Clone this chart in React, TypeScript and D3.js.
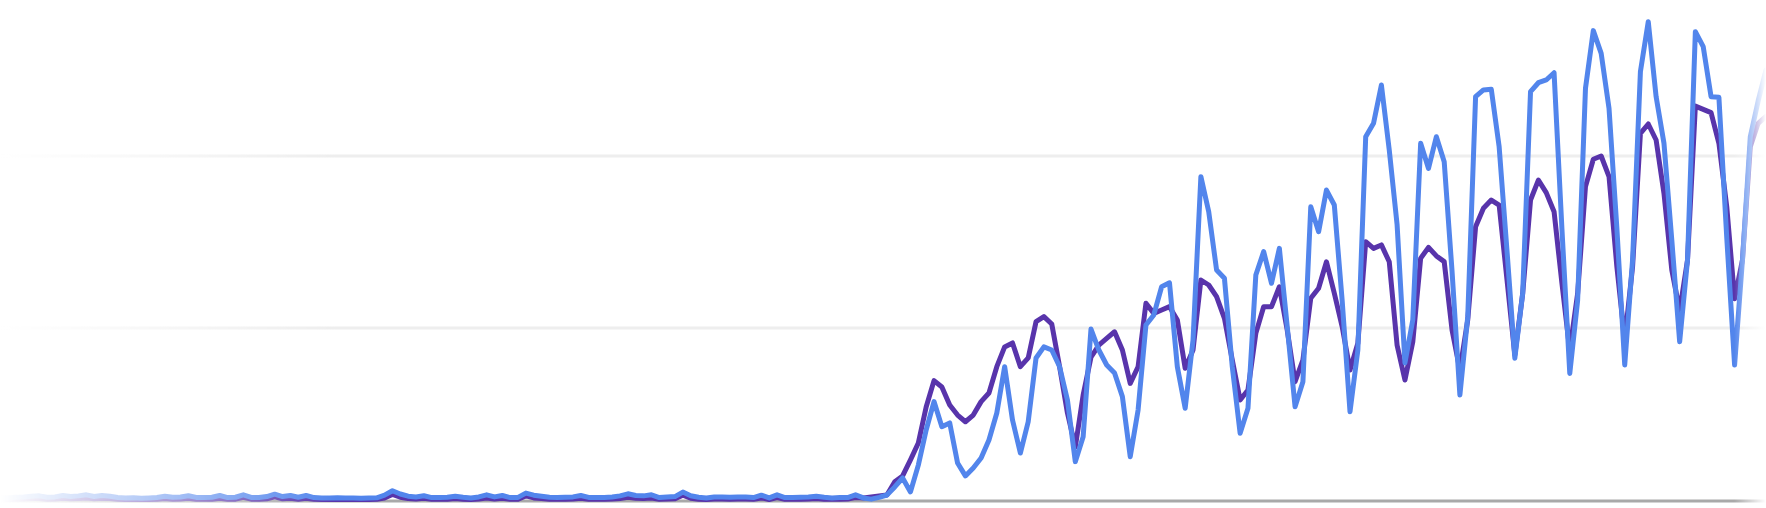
import React from "react";
import * as d3 from "d3";

const blueSeries: number[] = [
  1.5, 1.2, 1.6, 1.8, 2.2, 2.4, 1.6, 1.8, 2.6, 2.0,
  2.4, 3.0, 2.0, 2.6, 2.2, 1.5, 1.2, 1.3, 1.0, 1.2,
  1.5, 2.2, 1.6, 1.8, 2.5, 1.5, 1.4, 1.6, 2.6, 1.4,
  1.6, 3.0, 1.5, 1.4, 2.0, 3.4, 2.0, 2.6, 1.6, 2.6,
  1.4, 1.2, 1.2, 1.3, 1.2, 1.2, 1.0, 1.2, 1.3, 2.8,
  5.4, 3.5, 2.2, 1.8, 2.5, 1.4, 1.4, 1.6, 2.2, 1.6,
  1.2, 1.8, 3.0, 1.8, 2.6, 1.4, 1.5, 4.0, 2.8, 2.2,
  1.6, 1.4, 1.6, 1.8, 2.6, 1.5, 1.4, 1.5, 1.8, 2.4,
  3.6, 2.6, 2.4, 3.0, 1.4, 1.8, 2.0, 4.6, 2.5, 1.6,
  1.2, 1.8, 1.8, 1.6, 1.8, 1.8, 1.4, 2.8, 1.2, 3.0,
  1.4, 1.4, 1.6, 1.8, 2.2, 1.6, 1.2, 1.4, 1.4, 3.0,
  1.2, 0.5, 1.5, 2.9, 7.6, 12.8, 4.7, 20.3, 40.7, 57.2,
  42.6, 44.8, 21.5, 14.0, 18.6, 24.4, 34.9, 50.6, 77.5, 46.5,
  27.3, 45.5, 82.6, 89.0, 87.2, 77.5, 58.1, 22.3, 36.8, 99.4,
  87.2, 78.5, 73.8, 60.1, 25.2, 52.3, 101.7, 107.6, 124.0, 126.3,
  77.5, 53.3, 93.0, 188.0, 167.6, 133.7, 128.9, 77.5, 38.8, 53.3,
  130.8, 144.4, 126.0, 146.3, 100.8, 54.2, 68.8, 170.5, 156.0, 180.2,
  171.5, 116, 51.3, 87.2, 211.2, 219.0, 241.3, 203.5, 160, 79.7,
  104.7, 207.4, 192.8, 211.2, 196.7, 133, 61.0, 106.6, 234.5, 238.4,
  238.8, 205.4, 145, 82.4, 120.2, 237.4, 242.6, 244.2, 248.4, 157.6,
  73.6, 116, 239.3, 272.9, 259.7, 227.7, 158, 78.5, 139.5, 249.0,
  278.1, 234.5, 207.4, 151, 92.0, 139.5, 272.3, 263.6, 234.5, 234.1,
  152.5, 78.5, 139.5, 211.2, 232, 250,
];

const purpleSeries: number[] = [
  0.4, 0.3, 0.5, 0.6, 0.8, 0.9, 0.5, 0.6, 1.0, 0.7,
  0.8, 1.2, 0.7, 1.0, 0.8, 0.4, 0.3, 0.4, 0.3, 0.3,
  0.4, 0.8, 0.5, 0.6, 1.0, 0.4, 0.4, 0.5, 1.0, 0.4,
  0.5, 1.6, 0.5, 0.4, 0.7, 1.8, 0.7, 1.0, 0.5, 1.0,
  0.4, 0.3, 0.3, 0.4, 0.3, 0.3, 0.3, 0.3, 0.4, 1.2,
  3.2, 1.6, 0.8, 0.6, 1.0, 0.4, 0.4, 0.5, 0.8, 0.5,
  0.3, 0.6, 1.2, 0.6, 1.0, 0.4, 0.4, 2.4, 1.2, 0.8,
  0.5, 0.4, 0.5, 0.6, 1.0, 0.4, 0.4, 0.4, 0.6, 0.9,
  1.6, 1.0, 0.9, 1.2, 0.4, 0.6, 0.7, 2.8, 1.0, 0.5,
  0.3, 0.6, 0.6, 0.5, 0.6, 0.6, 0.4, 1.2, 0.3, 1.4,
  0.4, 0.4, 0.5, 0.6, 0.9, 0.5, 0.4, 0.5, 0.6, 1.4,
  1.2, 1.7, 2.3, 2.9, 10.6, 14.0, 23.3, 33.1, 54.1, 69.4,
  65.7, 55.2, 49.4, 45.5, 49.4, 57.2, 62.2, 77.5, 89.0, 91.3,
  77.5, 82.6, 103.7, 106.6, 102.3, 77.5, 50.6, 30.8, 61, 83,
  90.1, 94.0, 97.8, 87.2, 67.8, 77.5, 114.4, 108.5, 110.5, 112.4,
  104.7, 76.6, 87.2, 127.9, 125.0, 118.2, 105.6, 81.4, 58.1, 64.0,
  96.9, 112.4, 112.4, 124.0, 98.8, 68.8, 81.4, 117.3, 123.1, 138.5,
  120.2, 100.8, 75.6, 91.1, 150.2, 146.3, 148.3, 138.5, 90, 69.8,
  92.0, 140.5, 146.9, 141.9, 138.6, 98.8, 75.6, 104.7, 158.9, 169.6,
  174.4, 171.5, 128, 84.3, 120, 174.4, 186, 178.7, 167.6, 126,
  87, 120, 182.2, 198.1, 200, 188, 135.6, 93, 135.6, 213.2,
  218.6, 209.3, 178.3, 133.7, 110, 139.5, 229, 227.1, 225.2, 207.4,
  170.5, 117, 139.5, 205.4, 219, 223,
];

const gridTicks: number[] = [100, 200];

const W = 1766;
const H = 508;

export default function App() {
  React.useEffect(() => {
    document.body.style.margin = "0";
  }, []);

  const n = blueSeries.length;
  const x = d3.scaleLinear().domain([0, n - 1]).range([0, W]);
  const y = d3.scaleLinear().domain([0, 100]).range([500, 328]);

  const line = d3
    .line<number>()
    .x((_, i) => x(i))
    .y((d) => y(d));

  return (
    <svg
      width={W}
      height={H}
      style={{ position: "absolute", left: 0, top: 0, display: "block" }}
    >
      <defs>
        <linearGradient id="fadeGrad" x1="0" y1="0" x2={W} y2="0" gradientUnits="userSpaceOnUse">
          <stop offset="0" stopColor="#fff" stopOpacity={0} />
          <stop offset="0.02" stopColor="#fff" stopOpacity={0.1} />
          <stop offset="0.19" stopColor="#fff" stopOpacity={1} />
          <stop offset="0.982" stopColor="#fff" stopOpacity={1} />
          <stop offset="1" stopColor="#fff" stopOpacity={0} />
        </linearGradient>
        <mask id="fadeMask" maskUnits="userSpaceOnUse" x="0" y="0" width={W} height={H}>
          <rect x={0} y={0} width={W} height={H} fill="url(#fadeGrad)" />
        </mask>
      </defs>
      <g mask="url(#fadeMask)">
        {gridTicks.map((t) => (
          <line
            key={t}
            x1={0}
            x2={W}
            y1={y(t)}
            y2={y(t)}
            stroke="#eeeeee"
            strokeWidth={3}
          />
        ))}
        <line x1={0} x2={W} y1={501} y2={501} stroke="#a9a9a9" strokeWidth={3} />
        <path
          d={line(purpleSeries) || ""}
          fill="none"
          stroke="#5834ab"
          strokeWidth={5}
          strokeLinejoin="round"
          strokeLinecap="round"
        />
        <path
          d={line(blueSeries) || ""}
          fill="none"
          stroke="#5285ec"
          strokeWidth={5}
          strokeLinejoin="round"
          strokeLinecap="round"
        />
      </g>
    </svg>
  );
}
